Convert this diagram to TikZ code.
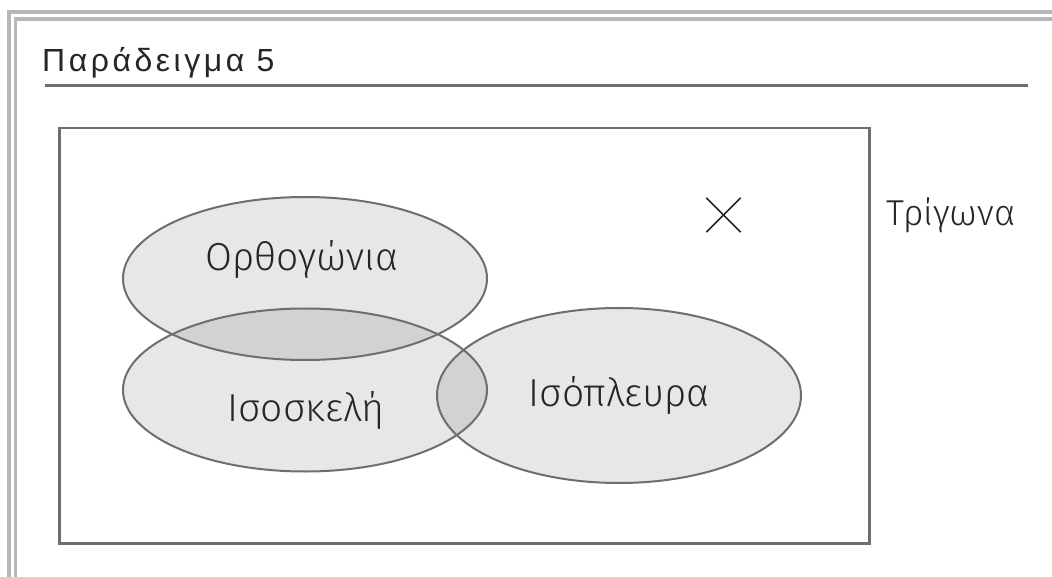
\documentclass[tikz,border=0pt]{standalone}
\usepackage{fontspec}
\setmainfont{Fira Sans}
\newfontfamily\titlefont[LetterSpace=11]{Liberation Sans}
\newfontfamily\handfont{Fira Sans Light}
\definecolor{framegray}{HTML}{B5B7B9}
\definecolor{edgegray}{HTML}{6D6E70}
\definecolor{setfill}{HTML}{E6E7E8}
\definecolor{overlapfill}{HTML}{D1D2D4}
\usetikzlibrary{shapes.geometric}
\tikzset{
  setline/.style={draw=edgegray, line width=2pt},
  setlabel/.style={font=\handfont\fontsize{39}{42}\selectfont, text=black!85, inner sep=0pt},
  framerule/.style={draw=framegray, line width=3.5pt},
}
\begin{document}
\begin{tikzpicture}[x=1pt,y=-1pt]
  \useasboundingbox (0,0) rectangle (1052,577);
  % double frame
  \draw[framerule] (1052,12) -- (9,12) -- (9,577);
  \draw[framerule] (1052,19) -- (15.5,19) -- (15.5,577);
  % heading and its rule
  \node[anchor=base west, inner sep=0pt, font=\titlefont\fontsize{32}{36}\selectfont, text=black!85] (title) at (42,72) {Παράδειγμα 5};
  \draw[draw=edgegray, line width=3pt] (45,86) -- (1028,86);
  % universal set
  \node[draw=edgegray, line width=2.5pt, minimum width=810pt, minimum height=415pt, anchor=north west, inner sep=0pt] (universe) at (58,127) {};
  % sets: fills first, then the overlaps, then the outlines
  \fill[setfill] (305,278.5) ellipse [x radius=182, y radius=81.5];
  \fill[setfill] (305,390) ellipse [x radius=182, y radius=81.5];
  \fill[setfill] (619,395.5) ellipse [x radius=182, y radius=87.5];
  \begin{scope}
    \clip (305,278.5) ellipse [x radius=182, y radius=81.5];
    \fill[overlapfill] (305,390) ellipse [x radius=182, y radius=81.5];
  \end{scope}
  \begin{scope}
    \clip (305,390) ellipse [x radius=182, y radius=81.5];
    \fill[overlapfill] (619,395.5) ellipse [x radius=182, y radius=87.5];
  \end{scope}
  \draw[setline] (305,278.5) ellipse [x radius=182, y radius=81.5];
  \draw[setline] (305,390) ellipse [x radius=182, y radius=81.5];
  \draw[setline] (619,395.5) ellipse [x radius=182, y radius=87.5];
  % labels
  \node[setlabel] (lorth) at (302,259) {Ορθογώνια};
  \node[setlabel] (lisosk) at (306,410) {Ισοσκελή};
  \node[setlabel] (lisopl) at (619,395) {Ισόπλευρα};
  \node[setlabel, font=\handfont\fontsize{36}{40}\selectfont] (luniv) at (951,215) {Τρίγωνα};
  % empty-region mark
  \node[minimum size=34pt, inner sep=0pt] (mark) at (723.5,215) {};
  \draw[black!85, line width=1.5pt] (mark.north west) -- (mark.south east);
  \draw[black!85, line width=1.5pt] (mark.north east) -- (mark.south west);
\end{tikzpicture}
\end{document}
